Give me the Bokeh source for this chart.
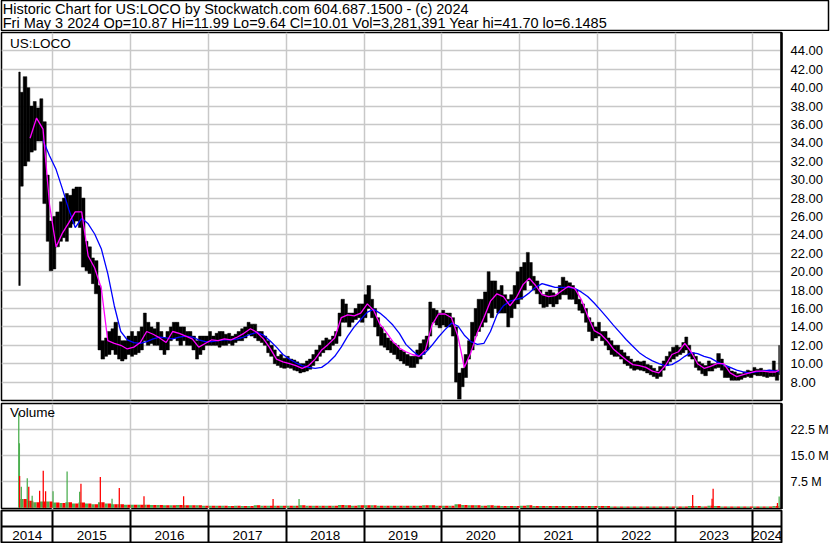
import numpy as np
import pandas as pd
from bokeh.plotting import figure
from bokeh.layouts import column
from bokeh.models import Range1d, FixedTicker, PrintfTickFormatter, ColumnDataSource
from bokeh.core.properties import value
from bokeh.embed import file_html
from bokeh.resources import INLINE

# ---------------- data ----------------
header_line1 = "Historic Chart for US:LOCO by Stockwatch.com 604.687.1500 - (c) 2024"
header_line2 = "Fri May  3 2024  Op=10.87  Hi=11.99  Lo=9.64  Cl=10.01  Vol=3,281,391  Year hi=41.70  lo=6.1485"
symbol = "US:LOCO"
volume_title = "Volume"

first_trade_date = "2014-07-25"
last_trade_date = "2024-05-03"
view_start = "2014-05-05"
view_end = "2024-05-14"
first_month = "2014-07-01"

years = [2014, 2015, 2016, 2017, 2018, 2019, 2020, 2021, 2022, 2023, 2024]
price_ticks = [8, 10, 12, 14, 16, 18, 20, 22, 24, 26, 28, 30, 32, 34, 36, 38, 40, 42, 44]
volume_ticks = [7.5, 15.0, 22.5]

# half-month price high / low (periods start on the 1st and 15th, Jul 2014 .. May 2024)
hi_2014 = [41.7, 39.5, 41.2, 40.0, 38.0, 38.5, 37.8, 38.8, 36.3, 30.5, 25.5]
lo_2014 = [18.5, 29.3, 31.5, 32.0, 33.0, 33.2, 34.2, 34.2, 27.4, 23.3, 20.1]
hi_2015 = [26.0, 26.5, 27.6, 28.0, 28.5, 28.3, 29.0, 29.2, 29.2, 28.0, 23.3, 22.7,
           21.5, 21.2, 18.5, 12.5, 12.8, 13.5, 13.8, 14.5, 13.0, 12.5, 12.5, 13.0]
lo_2015 = [20.3, 22.7, 23.3, 23.7, 23.3, 24.8, 25.2, 25.5, 24.8, 20.5, 20.1, 19.8,
           18.7, 17.6, 11.5, 10.5, 10.8, 11.0, 11.5, 11.0, 10.5, 10.3, 10.5, 11.0]
hi_2016 = [13.5, 13.0, 13.5, 14.0, 15.5, 14.5, 14.0, 13.8, 14.5, 13.5, 12.8, 13.5,
           14.0, 14.5, 14.5, 14.0, 14.0, 13.5, 13.5, 13.0, 12.5, 13.0, 13.0, 13.0]
lo_2016 = [10.8, 11.0, 11.2, 11.5, 12.5, 12.0, 12.2, 12.0, 12.0, 11.5, 11.0, 11.5,
           12.5, 12.8, 12.5, 12.0, 12.5, 12.0, 12.0, 11.5, 10.5, 11.0, 11.5, 12.0]
hi_2017 = [13.5, 13.0, 13.3, 13.5, 13.5, 13.2, 13.3, 13.0, 13.2, 13.5, 13.8, 14.0,
           14.5, 14.3, 14.3, 13.5, 13.5, 13.0, 12.5, 12.0, 11.5, 10.8, 11.0, 10.6]
lo_2017 = [12.0, 12.0, 12.0, 11.8, 12.0, 12.0, 12.2, 12.0, 12.3, 12.5, 12.5, 12.8,
           13.2, 13.0, 12.8, 12.5, 12.3, 12.0, 11.2, 10.8, 10.0, 9.8, 9.6, 9.5]
hi_2018 = [10.8, 10.5, 10.4, 10.2, 10.0, 10.0, 10.3, 10.5, 11.0, 11.5, 12.0, 12.5,
           12.8, 12.6, 13.0, 13.5, 15.5, 17.0, 16.5, 15.5, 15.5, 16.0, 16.5, 16.5]
lo_2018 = [9.6, 9.5, 9.3, 9.2, 9.0, 9.1, 9.2, 9.4, 9.8, 10.3, 10.8, 11.2,
           11.5, 11.5, 12.0, 12.2, 13.0, 14.5, 14.5, 14.0, 14.5, 14.8, 15.0, 14.5]
hi_2019 = [17.5, 18.5, 17.0, 16.0, 15.0, 14.0, 13.3, 12.8, 12.5, 12.2, 12.0, 11.5,
           11.3, 11.0, 10.8, 10.8, 11.5, 12.2, 12.6, 13.0, 16.7, 16.0, 15.8, 15.5]
lo_2019 = [15.0, 16.0, 15.0, 14.0, 13.0, 12.0, 11.8, 11.5, 11.2, 11.0, 10.5, 10.3,
           10.0, 9.8, 9.6, 9.6, 10.0, 10.5, 11.0, 11.5, 13.0, 14.5, 14.2, 13.9]
hi_2020 = [15.8, 15.5, 15.5, 15.0, 14.0, 9.0, 9.5, 11.0, 12.5, 14.5, 16.0, 17.0,
           17.0, 17.8, 20.0, 19.0, 19.0, 18.0, 18.5, 17.5, 17.0, 17.5, 18.5, 20.0]
lo_2020 = [14.2, 14.0, 14.0, 13.0, 8.0, 6.15, 7.5, 8.5, 10.5, 11.5, 13.0, 13.5,
           14.0, 14.5, 15.5, 15.0, 16.0, 15.5, 15.5, 15.5, 14.0, 15.0, 16.0, 16.5]
hi_2021 = [20.5, 21.0, 22.1, 21.0, 19.5, 19.0, 18.0, 17.5, 17.8, 18.0, 17.7, 17.5,
           18.5, 19.4, 19.0, 18.8, 18.5, 18.0, 17.0, 16.5, 16.0, 15.0, 14.5, 14.0]
lo_2021 = [17.0, 18.0, 19.0, 18.5, 18.0, 17.6, 16.5, 16.1, 16.2, 16.5, 16.2, 16.5,
           17.0, 17.5, 17.5, 17.0, 17.0, 16.5, 15.8, 15.5, 14.5, 13.5, 12.5, 12.8]
hi_2022 = [14.5, 13.5, 13.5, 12.8, 12.5, 12.0, 12.0, 11.5, 11.2, 10.8, 10.5, 10.2,
           10.3, 10.2, 10.3, 9.9, 9.8, 9.5, 9.2, 9.7, 10.3, 10.8, 11.3, 11.8]
lo_2022 = [13.0, 12.5, 12.0, 11.5, 11.0, 10.8, 10.8, 10.5, 10.0, 9.8, 9.5, 9.3,
           9.4, 9.3, 9.2, 9.0, 8.8, 8.6, 8.4, 8.6, 9.3, 9.8, 10.2, 10.5]
hi_2023 = [12.0, 11.8, 12.3, 12.9, 12.0, 11.2, 10.8, 10.2, 10.0, 9.8, 10.3, 10.0,
           10.0, 11.1, 10.5, 9.7, 9.6, 9.2, 9.1, 8.9, 8.9, 9.1, 9.3, 9.2]
lo_2023 = [10.8, 11.0, 11.2, 11.5, 10.8, 10.5, 9.6, 9.3, 8.9, 8.7, 9.2, 9.2,
           9.5, 9.6, 9.3, 8.5, 8.5, 8.2, 8.2, 8.2, 8.3, 8.5, 8.6, 8.5]
hi_2024 = [9.6, 9.4, 9.5, 9.3, 9.2, 9.3, 10.3, 9.3, 11.99]
lo_2024 = [8.8, 8.7, 8.7, 8.6, 8.5, 8.6, 8.6, 8.2, 8.8]

# short moving average (magenta), monthly readings Jul 2014 .. May 2024
ma_short = [
    None, None, 34.5, 36.7, 35.5, 27.3,
    22.7, 24.2, 25.3, 26.5, 26.5, 21.7, 20.4, 18.2, 12.5, 12.2, 12.0, 11.6,
    11.8, 12.3, 13.5, 13.2, 12.8, 12.3, 13.5, 13.3, 13.0, 12.7, 11.8, 12.2,
    12.6, 12.5, 12.7, 12.6, 12.9, 13.3, 13.8, 13.4, 12.7, 11.7, 10.5, 10.2,
    10.0, 9.8, 9.5, 9.8, 10.5, 11.5, 12.1, 12.8, 15.0, 15.3, 15.2, 15.5,
    16.5, 15.8, 14.3, 13.4, 12.4, 11.7, 11.3, 11.0, 10.8, 11.5, 14.2, 15.4,
    15.4, 15.0, 13.0, 9.6, 11.2, 13.4, 15.0, 16.8, 17.6, 17.3, 16.3, 17.2,
    18.6, 19.3, 18.5, 17.5, 17.3, 17.4, 17.9, 18.4, 18.2, 17.0, 15.2, 13.6,
    13.2, 12.5, 11.6, 11.0, 10.4, 9.9, 9.8, 9.6, 9.2, 9.0, 9.8, 11.0,
    11.3, 12.2, 11.3, 10.0, 9.5, 9.7, 10.0, 10.0, 9.0, 8.6, 8.8, 9.0,
    9.2, 9.2, 9.1, 9.1, 9.3,
]
# long moving average (blue), monthly readings
ma_long = [
    None, None, None, None, 34.3, 32.6,
    31.1, 29.0, 26.8, 24.8, 25.8, 25.2, 24.1, 22.5, 19.8, 16.3, 13.5, 12.6,
    12.3, 12.2, 12.4, 12.7, 12.9, 12.8, 12.7, 12.9, 13.0, 12.9, 12.6, 12.4,
    12.4, 12.5, 12.6, 12.6, 12.7, 12.9, 13.2, 13.4, 13.1, 12.5, 11.8, 11.0,
    10.5, 10.1, 9.8, 9.6, 9.5, 9.6, 10.1, 10.8, 11.8, 13.0, 14.0, 14.8,
    15.6, 15.9, 15.5, 14.9, 14.2, 13.3, 12.1, 11.4, 10.8, 11.2, 12.0, 12.9,
    13.7, 14.4, 14.1, 13.1, 12.4, 12.1, 12.2, 13.5, 15.3, 16.3, 16.8, 17.0,
    17.2, 17.7, 18.3, 18.7, 18.5, 18.3, 18.3, 18.3, 18.2, 17.8, 17.3, 16.6,
    15.8, 15.0, 14.2, 13.4, 12.6, 11.9, 11.2, 10.7, 10.3, 10.0, 9.8, 9.9,
    10.3, 10.8, 11.2, 11.1, 10.8, 10.6, 10.2, 9.9, 9.6, 9.3, 9.1, 9.0,
    9.1, 9.2, 9.3, 9.2, 9.1,
]
# typical daily volume per month (millions)
volume_base = [
    0.0, 2.5, 2.0, 1.6, 1.8, 1.8,
    1.5, 1.4, 1.6, 1.2, 1.5, 1.2, 1.0, 1.6, 1.2, 1.0, 1.0, 0.9,
    0.9, 0.9, 0.9, 0.8, 0.8, 0.7, 0.7, 0.8, 0.7, 0.7, 0.7, 0.6,
    0.6, 0.6, 0.6, 0.5, 0.6, 0.5, 0.5, 0.7, 0.6, 0.6, 0.6, 0.6,
    0.6, 0.6, 0.7, 0.6, 0.6, 0.6, 0.6, 0.6, 0.8, 0.7, 0.6, 0.7,
    0.7, 0.7, 0.6, 0.6, 0.6, 0.6, 0.6, 0.6, 0.6, 0.7, 0.7, 0.6,
    0.6, 0.6, 1.0, 0.8, 0.7, 0.7, 0.6, 0.7, 0.6, 0.5, 0.5, 0.5,
    0.6, 0.7, 0.5, 0.5, 0.5, 0.5, 0.5, 0.5, 0.5, 0.5, 0.5, 0.5,
    0.5, 0.5, 0.4, 0.4, 0.4, 0.4, 0.4, 0.4, 0.4, 0.4, 0.4, 0.4,
    0.4, 0.4, 0.5, 0.5, 0.4, 0.6, 0.5, 0.4, 0.4, 0.4, 0.4, 0.4,
    0.4, 0.4, 0.4, 0.5, 0.5,
]
# individual high-volume days (millions), up-day flag
spike_dates = [
    "2014-07-25", "2014-07-28", "2014-07-29", "2014-08-06", "2014-09-03", "2014-09-10",
    "2014-09-26", "2014-10-31", "2014-11-17", "2014-11-28", "2015-01-02", "2015-03-09",
    "2015-05-07", "2015-05-13", "2015-08-12", "2015-10-06", "2015-11-09", "2016-03-04",
    "2016-09-06", "2017-10-31", "2018-03-02", "2023-03-24", "2023-06-23", "2023-06-28",
    "2024-04-25", "2024-05-03",
]
spike_volume = [
    27.3, 18.6, 9.2, 6.1, 8.5, 6.1,
    3.5, 4.9, 10.7, 4.8, 4.8, 10.5,
    4.6, 6.9, 8.9, 2.6, 5.7, 3.3,
    3.3, 2.5, 2.5, 3.7, 2.6, 5.5,
    1.4, 3.28,
]
spike_up = [
    True, True, False, True, True, False,
    True, False, False, False, True, True,
    True, False, False, True, False, False,
    False, False, True, False, False, False,
    False, True,
]

price_hi = hi_2014 + hi_2015 + hi_2016 + hi_2017 + hi_2018 + hi_2019 + hi_2020 + hi_2021 + hi_2022 + hi_2023 + hi_2024
price_lo = lo_2014 + lo_2015 + lo_2016 + lo_2017 + lo_2018 + lo_2019 + lo_2020 + lo_2021 + lo_2022 + lo_2023 + lo_2024

# ---------------- styling ----------------
FONT = "Liberation Sans"
GRID = "#c8c8c8"
UP = "#4caf50"
DOWN = "#ff0000"
LEFT = 1
FRAME_W = 780
RIGHT = 49
TOTAL_W = LEFT + FRAME_W + RIGHT

x_range = Range1d(start=pd.Timestamp(view_start), end=pd.Timestamp(view_end))
first = pd.Timestamp(first_trade_date)
last = pd.Timestamp(last_trade_date) + pd.Timedelta(days=1)

# half-month periods
hstarts_raw = list(pd.date_range("2014-07-15", periods=len(price_hi), freq="SMS"))
h_starts = [max(s, first) for s in hstarts_raw]
h_ends = hstarts_raw[1:] + [last]
h_ends = [min(e, last) for e in h_ends]
h_center = [s + (e - s) / 2 for s, e in zip(h_starts, h_ends)]
h_width = [(e - s).total_seconds() * 1000.0 for s, e in zip(h_starts, h_ends)]

# monthly periods (moving averages and volume)
months = pd.date_range(first_month, periods=len(ma_short), freq="MS")
m_starts = [max(m, first) for m in months]
m_ends = [min(m + pd.offsets.MonthBegin(1), last) for m in months]
m_center = [s + (e - s) / 2 for s, e in zip(m_starts, m_ends)]
m_width = [(e - s).total_seconds() * 1000.0 for s, e in zip(m_starts, m_ends)]

year_bounds = [pd.Timestamp(f"{y}-01-01").value / 1e6 for y in years[1:]]


def base_fig(height, y_range, right_axis=True):
    p = figure(width=TOTAL_W, height=height, x_range=x_range, y_range=y_range,
               x_axis_type="datetime", x_axis_location=None,
               y_axis_location="right" if right_axis else None,
               output_backend="svg", toolbar_location=None)
    p.frame_width = FRAME_W
    p.min_border_left = LEFT
    p.min_border_right = RIGHT
    p.min_border_top = 0
    p.min_border_bottom = 0
    p.background_fill_color = "white"
    p.border_fill_color = "white"
    p.outline_line_color = "black"
    p.outline_line_width = 2
    p.xgrid.ticker = FixedTicker(ticks=year_bounds)
    p.xgrid.grid_line_color = GRID
    p.xgrid.grid_line_width = 1.5
    if right_axis:
        ax = p.yaxis[0]
        ax.axis_line_color = "black"
        ax.axis_line_width = 2.5
        ax.major_tick_line_color = None
        ax.minor_tick_line_color = None
        ax.major_label_standoff = 3
        ax.major_label_text_font = FONT
        ax.major_label_text_font_size = "13px"
        ax.major_label_text_color = "black"
    return p


# ---------------- header ----------------
hdr = figure(width=TOTAL_W, height=31, x_range=(0, 1), y_range=(0, 1),
             x_axis_location=None, y_axis_location=None,
             output_backend="svg", toolbar_location=None)
hdr.frame_width = TOTAL_W - 3
hdr.frame_height = 31
hdr.min_border_left = LEFT
hdr.min_border_right = 2
hdr.min_border_top = 0
hdr.min_border_bottom = 0
hdr.grid.visible = False
hdr.outline_line_color = "black"
hdr.outline_line_width = 1.5
hdr.text(x=[0.0015, 0.0015], y=[0.71, 0.28], text=[header_line1, header_line2],
         text_font=value(FONT), text_font_size=value("14.5px"), text_color="black",
         text_baseline="middle", text_align="left")

# ---------------- price panel ----------------
pp = base_fig(371, Range1d(6, 46))
pp.frame_height = 368
pp.min_border_top = 1
pp.min_border_bottom = 2
pp.outline_line_width = 1.5
pp.yaxis.ticker = FixedTicker(ticks=price_ticks)
pp.yaxis.formatter = PrintfTickFormatter(format="%.2f")
pp.ygrid.ticker = FixedTicker(ticks=price_ticks)
pp.ygrid.grid_line_color = GRID
pp.ygrid.grid_line_width = 1.5

bars = ColumnDataSource(dict(x=h_center, w=h_width, top=price_hi, bottom=price_lo))
pp.vbar(x="x", width="w", top="top", bottom="bottom", source=bars,
        fill_color="black", line_color="black", line_width=0.5)
ma_s = [np.nan if v is None else v for v in ma_short]
ma_l = [np.nan if v is None else v for v in ma_long]
pp.line(m_center, ma_l, line_color="#0000ff", line_width=1.3)
pp.line(m_center, ma_s, line_color="#ff00ff", line_width=1.3)
pp.text(x=[pd.Timestamp(view_start) + pd.Timedelta(days=40)], y=[45.6], text=[symbol],
        text_font=value(FONT), text_font_size=value("13.5px"), text_color="black",
        text_baseline="top", text_align="left")

# ---------------- volume panel ----------------
vp = base_fig(107, Range1d(-0.5, 30.1))
vp.frame_height = 106
vp.min_border_top = 1
vp.outline_line_width = 1.5
vp.yaxis.ticker = FixedTicker(ticks=volume_ticks)
vp.yaxis.formatter = PrintfTickFormatter(format="%.1f M")
vp.yaxis.major_label_text_font_size = "12.5px"
vp.ygrid.ticker = FixedTicker(ticks=volume_ticks)
vp.ygrid.grid_line_color = GRID
vp.ygrid.grid_line_width = 1.5

gx, rx, hw, bv = [], [], [], []
for s, w, v in zip(m_starts, m_width, volume_base):
    if v <= 0:
        continue
    gx.append(s + pd.Timedelta(milliseconds=w * 0.25))
    rx.append(s + pd.Timedelta(milliseconds=w * 0.75))
    hw.append(w * 0.5)
    bv.append(v)
vp.vbar(x=gx, width=hw, top=bv, bottom=0, fill_color=UP, line_color=None)
vp.vbar(x=rx, width=hw, top=bv, bottom=0, fill_color=DOWN, line_color=None)
sx = [pd.Timestamp(d) for d in spike_dates]
scol = [UP if u else DOWN for u in spike_up]
vp.vbar(x=sx, width=6 * 86400000, top=spike_volume, bottom=0, fill_color=scol, line_color=None)
vp.text(x=[pd.Timestamp(view_start) + pd.Timedelta(days=40)], y=[29.6], text=[volume_title],
        text_font=value(FONT), text_font_size=value("13.5px"), text_color="black",
        text_baseline="top", text_align="left")

# ---------------- date strip ----------------
bp = base_fig(34, Range1d(0, 2), right_axis=False)
bp.frame_height = 32
bp.min_border_top = 1
bp.min_border_bottom = 1
bp.xgrid.grid_line_color = "black"
bp.xgrid.grid_line_width = 2
bp.ygrid.ticker = FixedTicker(ticks=[0.97])
bp.ygrid.grid_line_color = "black"
bp.ygrid.grid_line_width = 2
vs, ve = pd.Timestamp(view_start), pd.Timestamp(view_end)
label_x = []
for y in years:
    a = max(pd.Timestamp(f"{y}-01-01"), vs)
    b = min(pd.Timestamp(f"{y + 1}-01-01"), ve)
    label_x.append(a + (b - a) / 2)
bp.text(x=label_x, y=[0.46] * len(years), text=[str(y) for y in years],
        text_font=value(FONT), text_font_size=value("13.5px"), text_color="black",
        text_baseline="middle", text_align="center")

layout = column(hdr, pp, vp, bp, spacing=0)
open("out.html", "w").write(file_html(layout, INLINE))
